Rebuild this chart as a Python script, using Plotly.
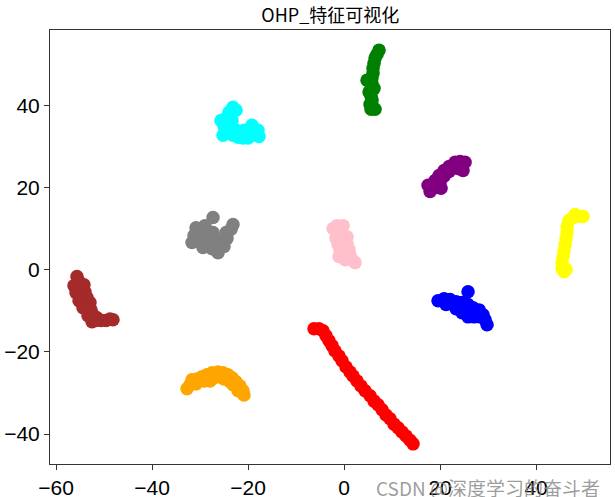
import plotly.graph_objects as go

title_text = "OHP_特征可视化"

green_x = [7.29, 6.88, 6.46, 6.25, 6.04, 6.04, 5.83, 4.79, 5.83, 6.25, 5.21, 5.63, 5.83, 5.42, 6.04, 5.63, 6.46]
green_y = [53.4, 52.4, 51.5, 50.2, 49.0, 47.8, 46.6, 46.1, 45.1, 44.1, 43.2, 42.2, 41.2, 40.2, 39.5, 39.0, 39.0]

cyan_x = [-23.13, -23.96, -22.5, -24.58, -23.33, -25.0, -23.75, -24.58, -23.13, -22.08, -21.04, -20.0, -19.17, -19.17, -17.92, -17.71, -22.5, -25.63, -25.21, -20.83]
cyan_y = [39.5, 38.3, 38.8, 36.8, 36.3, 34.9, 34.4, 33.2, 32.7, 32.2, 32.0, 32.0, 32.7, 35.1, 33.9, 32.4, 33.9, 36.3, 32.7, 33.9]

purple_x = [17.92, 18.33, 19.17, 18.96, 20.0, 19.79, 20.83, 20.83, 21.88, 21.88, 22.92, 23.13, 24.17, 25.21, 24.79, 23.75, 20.21, 17.5]
purple_y = [19.0, 20.5, 20.0, 21.7, 21.2, 22.9, 22.7, 24.1, 23.9, 25.1, 24.9, 26.1, 26.3, 26.1, 24.1, 24.6, 19.8, 20.5]

gray_x = [-27.29, -28.96, -30.83, -30.0, -31.25, -29.38, -30.42, -28.33, -29.38, -27.5, -26.25, -25.0, -25.63, -24.38, -24.58, -23.54, -23.13, -27.29, -28.33, -31.67, -26.67, -26.25]
gray_y = [12.7, 10.7, 10.2, 9.0, 8.3, 7.6, 6.8, 6.3, 5.4, 5.1, 5.1, 5.6, 7.1, 7.6, 9.0, 9.8, 11.0, 9.0, 8.5, 6.6, 7.1, 4.1]

pink_x = [-1.46, -0.21, -1.67, -0.42, -1.67, 0.0, -1.25, 0.63, -0.83, 1.04, -0.21, 1.25, 0.21, 1.88, 2.29, -1.04, -2.29, 0.63]
pink_y = [10.7, 10.7, 9.3, 8.8, 7.6, 7.1, 6.1, 6.3, 4.6, 4.9, 3.7, 3.4, 2.4, 2.2, 1.7, 3.2, 10.0, 8.0]

yellow_x = [49.79, 48.75, 47.71, 46.88, 46.46, 46.46, 46.25, 46.04, 45.83, 45.63, 45.42, 45.42, 46.25, 45.83, 48.13]
yellow_y = [12.9, 12.9, 12.7, 12.0, 10.5, 9.0, 7.6, 6.1, 4.6, 3.2, 1.7, 0.2, 0.0, -0.5, 13.4]

brown_x = [-55.63, -55.21, -54.17, -55.42, -53.96, -54.79, -53.54, -54.17, -52.92, -53.54, -52.71, -52.29, -51.46, -51.67, -50.63, -49.58, -48.75, -48.13, -56.25, -55.83, -55.21, -54.38, -53.33, -52.5]
brown_y = [-1.7, -2.9, -3.7, -4.6, -5.4, -6.3, -6.8, -8.0, -8.0, -9.5, -9.8, -11.0, -11.7, -12.4, -12.4, -12.4, -12.0, -12.2, -3.9, -5.6, -7.6, -9.3, -11.2, -12.7]

blue_x = [19.58, 20.83, 22.08, 23.33, 24.58, 25.83, 26.88, 28.13, 28.96, 29.38, 29.79, 23.33, 24.58, 25.83, 27.08, 21.25, 25.83, 28.33]
blue_y = [-7.6, -7.1, -7.3, -7.8, -8.0, -8.5, -9.3, -9.8, -11.0, -12.2, -13.4, -9.5, -10.5, -11.5, -11.5, -8.5, -5.4, -11.5]

red_x = [-6.25, -5.21, -4.38, -3.75, -3.13, -2.5, -1.88, -1.04, -0.42, 0.42, 1.25, 1.88, 2.71, 3.54, 4.38, 5.42, 6.25, 7.08, 7.92, 8.75, 9.58, 10.42, 11.25, 12.08, 12.92, 13.75, 14.38]
red_y = [-14.4, -14.4, -14.9, -16.1, -17.3, -18.5, -19.8, -21.0, -22.2, -23.7, -24.9, -25.9, -27.1, -28.3, -29.5, -30.7, -32.0, -32.9, -34.1, -35.4, -36.3, -37.6, -38.5, -39.5, -40.5, -41.5, -42.4]

orange_x = [-32.08, -31.67, -30.63, -29.58, -28.54, -27.5, -26.25, -25.21, -24.17, -23.33, -22.5, -21.67, -21.04, -20.83, -29.17, -27.08, -25.0, -23.13, -22.08, -30.83, -32.71, -27.92, -25.83, -23.75]
orange_y = [-28.0, -26.8, -26.6, -26.1, -25.6, -25.1, -24.9, -25.1, -25.6, -26.3, -27.3, -28.3, -29.5, -30.5, -27.1, -26.3, -26.6, -28.0, -29.5, -27.8, -29.0, -27.1, -26.1, -27.3]

series = [
    (green_x, green_y, "green"),
    (cyan_x, cyan_y, "cyan"),
    (purple_x, purple_y, "purple"),
    (gray_x, gray_y, "gray"),
    (pink_x, pink_y, "pink"),
    (yellow_x, yellow_y, "yellow"),
    (brown_x, brown_y, "brown"),
    (blue_x, blue_y, "blue"),
    (red_x, red_y, "red"),
    (orange_x, orange_y, "orange"),
]

fig = go.Figure()
for xs, ys, c in series:
    fig.add_trace(go.Scatter(x=xs, y=ys, mode="markers",
                             marker=dict(color=c, size=13.5, line=dict(width=0)),
                             showlegend=False, hoverinfo="skip"))

tick_font = dict(family="Liberation Sans, Arial, sans-serif", size=21, color="black")
axis_common = dict(showgrid=False, zeroline=False, showline=True, linecolor="#333333",
                   linewidth=1, mirror=True, ticks="outside", ticklen=5, tickcolor="#333333",
                   tickfont=tick_font, automargin=False)

fig.update_layout(
    width=615, height=497,
    margin=dict(l=50, r=5, t=30, b=33, autoexpand=False),
    paper_bgcolor="white", plot_bgcolor="white",
    title=dict(text=title_text, x=0.537, xanchor="center", y=0.968, yanchor="middle",
               font=dict(family="Noto Sans CJK SC, sans-serif", size=18, color="black")),
    xaxis=dict(range=[-61.25, 55.4], tickvals=[-60, -40, -20, 0, 20, 40], **axis_common),
    yaxis=dict(range=[-47.3, 58.3], tickvals=[-40, -20, 0, 20, 40], **axis_common),
    annotations=[dict(text="CSDN @深度学习的奋斗者", xref="paper", yref="paper",
                      x=0.985, y=-0.018, xanchor="right", yanchor="top", showarrow=False,
                      font=dict(family="Noto Sans CJK SC, sans-serif", size=19,
                                color="rgba(140,140,140,0.85)"))],
)

fig.write_html("out.html", config={"displayModeBar": False},
               post_script="document.body.style.margin='0';document.body.style.overflow='hidden';")
